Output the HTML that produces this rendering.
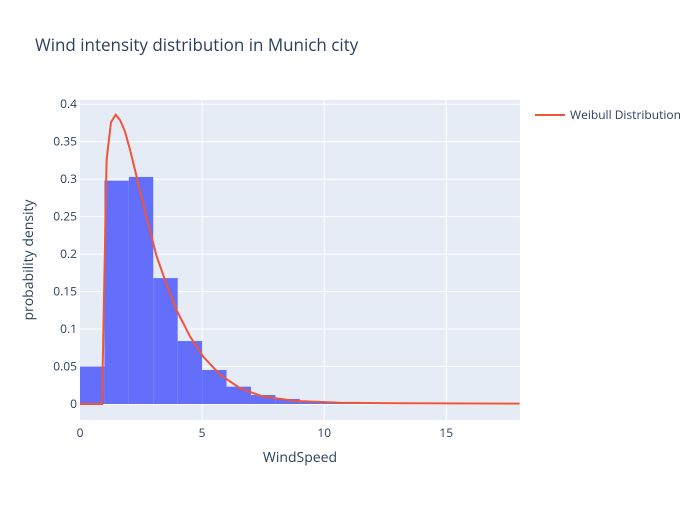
<!DOCTYPE html>
<html><head><meta charset="utf-8"><style>
body{margin:0;background:#fff;}
svg text{font-family:"Open Sans","Liberation Sans",sans-serif;}
</style></head><body>
<svg id="chart" width="700" height="500" xmlns="http://www.w3.org/2000/svg">
<rect width="700" height="500" fill="#fff"/>
<text x="35" y="51" font-size="17" fill="#2a3f5f">Wind intensity distribution in Munich city</text>
<rect x="80" y="100" width="440" height="320" fill="#e5ecf6"/>
<g id="grid"></g>
<g id="bars"></g>
<path id="curve" fill="none" stroke="#ef553b" stroke-width="2"/>
<g id="xt"></g><g id="yt"></g>
<text x="300" y="462" font-size="14" fill="#2a3f5f" text-anchor="middle">WindSpeed</text>
<text transform="translate(33,260) rotate(-90)" font-size="14" fill="#2a3f5f" text-anchor="middle">probability density</text>
<g>
<line x1="535" y1="115" x2="565" y2="115" stroke="#ef553b" stroke-width="2"/>
<text x="570" y="119" font-size="12" fill="#2a3f5f">Weibull Distribution</text>
</g>
</svg>
<script>
const binStarts=[0,1,2,3,4,5,6,7,8,9,10,11,12];
const binValues=[0.05,0.298,0.303,0.168,0.084,0.0454,0.0231,0.012,0.0067,0.004,0.002,0.001,0.0005];
const curveX=[0,0.9,1.09,1.27,1.46,1.64,1.84,2.05,2.32,2.73,3.14,3.55,3.96,4.51,5.05,5.74,6.56,7.51,8.88,10.66,13,18];
const curveY=[0,0,0.326,0.376,0.386,0.379,0.364,0.339,0.303,0.248,0.197,0.159,0.125,0.090,0.063,0.039,0.021,0.0098,0.004,0.0018,0.001,0.0005];
const xTicks=[0,5,10,15];
const yTicks=[0,0.05,0.1,0.15,0.2,0.25,0.3,0.35,0.4];
const yTickLabels=["0","0.05","0.1","0.15","0.2","0.25","0.3","0.35","0.4"];
const NS="http://www.w3.org/2000/svg";
const X=v=>80+v*24.42;
const Y=v=>404-v*749.4;
function mk(t,a,p){const e=document.createElementNS(NS,t);for(const k in a)e.setAttribute(k,a[k]);p.appendChild(e);return e;}
const grid=document.getElementById('grid');
yTicks.forEach((v,i)=>{
 const l=mk('line',{x1:80,x2:520,y1:Y(v),y2:Y(v),stroke:'#fff','stroke-width':v===0?2:1},grid);
 
 
 const t=mk('text',{x:77,y:Y(v)+4,'font-size':12,fill:'#2a3f5f','text-anchor':'end'},document.getElementById('yt'));
 t.textContent=yTickLabels[i];
 
 
});
xTicks.forEach(v=>{
 if(v>0){const l=mk('line',{x1:X(v),x2:X(v),y1:100,y2:420,stroke:'#fff','stroke-width':1},grid);
 
 }
 const t=mk('text',{x:X(v),y:437,'font-size':12,fill:'#2a3f5f','text-anchor':'middle'},document.getElementById('xt'));
 t.textContent=String(v);
 
 
});
const bars=document.getElementById('bars');
binStarts.forEach((s,i)=>{
 const y=Y(binValues[i]);
 const r=mk('rect',{x:X(s),y:y,width:X(s+1)-X(s),height:Y(0)-y,fill:'#636efa'},bars);
 
 
});
document.getElementById('curve').setAttribute('d',curveX.map((x,i)=>(i?'L':'M')+X(x).toFixed(1)+','+Y(curveY[i]).toFixed(1)).join(''));
</script>
</body></html>
